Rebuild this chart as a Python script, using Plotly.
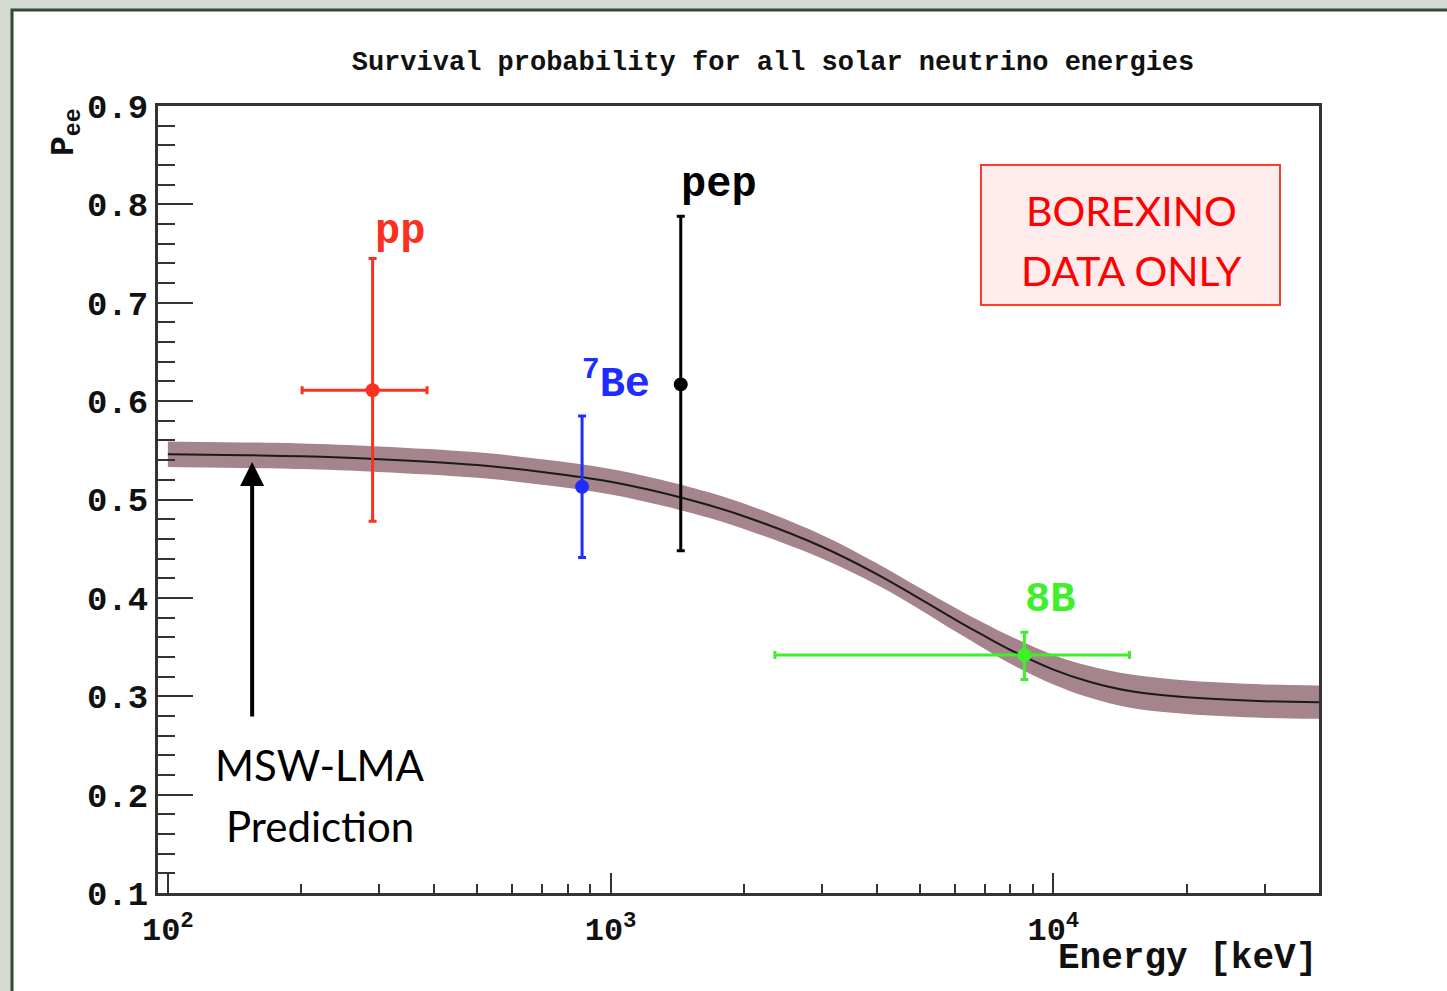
import plotly.graph_objects as go
import math

# ---------------- data ----------------
# MSW-LMA prediction curve (energy in keV, survival probability)
curve_E = [100, 150, 200, 300, 500, 700, 1000, 1500, 2000, 3000, 4000, 5000,
           6000, 7000, 8000, 10000, 12000, 15000, 20000, 30000, 40000]
curve_P = [0.546, 0.545, 0.544, 0.541, 0.535, 0.528, 0.518, 0.500, 0.483, 0.452,
           0.424, 0.399, 0.378, 0.361, 0.347, 0.327, 0.315, 0.305, 0.299, 0.295, 0.294]
curve_hw = [0.013, 0.013, 0.013, 0.013, 0.013, 0.013, 0.013, 0.013, 0.013, 0.012,
            0.011, 0.011, 0.012, 0.013, 0.014, 0.015, 0.016, 0.017, 0.017, 0.017, 0.017]

# Borexino measurements
names = ["pp", "7Be", "pep", "8B"]
E = [290, 862, 1440, 8600]
E_lo = [201, 862, 1440, 2350]
E_hi = [385, 862, 1440, 14860]
P = [0.611, 0.513, 0.617, 0.342]
P_lo = [0.478, 0.441, 0.448, 0.317]
P_hi = [0.745, 0.585, 0.788, 0.365]
colors = ["#f8321f", "#1f2cff", "#000000", "#3ef02a"]
label_text = ["pp", "<sup>7</sup>Be", "pep", "8B"]
label_E = [335, 1026, 1754, 9840]
label_P = [0.772, 0.620, 0.820, 0.398]

x_major = [100, 1000, 10000]
x_major_text = ["10<sup>2</sup>", "10<sup>3</sup>", "10<sup>4</sup>"]
x_minor = [m * d for d in (100, 1000, 10000) for m in range(2, 10) if m * d <= 40000]
y_major = [0.1, 0.2, 0.3, 0.4, 0.5, 0.6, 0.7, 0.8, 0.9]
y_minor = [round(0.1 + 0.02 * i, 2) for i in range(41) if i % 5 != 0]

# ---------------- geometry ----------------
W, H = 1447, 991
ML, MR, MT, MB = 158, 128, 106, 98
PW, PH = W - ML - MR, H - MT - MB


def px(xp):
    return (xp - ML) / PW


def py(yp):
    return 1 - (yp - MT) / PH


mono = "Liberation Mono, Courier New, monospace"
sans = "Lato, Carlito, Open Sans, sans-serif"
axcol = "#333333"
band_col = "#a6848b"

fig = go.Figure()

# band
fig.add_trace(go.Scatter(x=curve_E, y=[p - h for p, h in zip(curve_P, curve_hw)],
                         mode="lines", line=dict(width=0, color=band_col, shape="spline"),
                         showlegend=False, hoverinfo="skip"))
fig.add_trace(go.Scatter(x=curve_E, y=[p + h for p, h in zip(curve_P, curve_hw)],
                         mode="lines", line=dict(width=0, color=band_col, shape="spline"),
                         fill="tonexty", fillcolor=band_col,
                         showlegend=False, hoverinfo="skip"))
fig.add_trace(go.Scatter(x=curve_E, y=curve_P, mode="lines",
                         line=dict(color="#1a1a1a", width=2, shape="spline"),
                         showlegend=False))

# data points
for i in range(len(names)):
    fig.add_trace(go.Scatter(
        x=[E[i]], y=[P[i]], mode="markers",
        marker=dict(color=colors[i], size=14),
        error_y=dict(type="data", symmetric=False,
                     array=[P_hi[i] - P[i]], arrayminus=[P[i] - P_lo[i]],
                     color=colors[i], thickness=3, width=4),
        error_x=dict(type="data", symmetric=False,
                     array=[E_hi[i] - E[i]], arrayminus=[E[i] - E_lo[i]],
                     color=colors[i], thickness=3, width=4),
        showlegend=False, name=names[i]))

annotations = []
for i in range(len(names)):
    annotations.append(dict(x=math.log10(label_E[i]), y=label_P[i], xref="x", yref="y",
                            text=label_text[i], showarrow=False,
                            font=dict(family=mono, size=42, color=colors[i], weight="bold"),
                            xanchor="center", yanchor="middle"))

# arrow
annotations.append(dict(x=math.log10(155), y=0.538, xref="x", yref="y",
                        ax=0, ay=256, axref="pixel", ayref="pixel", text="",
                        showarrow=True, arrowhead=2, arrowsize=1.2, arrowwidth=4,
                        arrowcolor="#000000"))
# MSW-LMA text
annotations.append(dict(x=px(320), y=py(765), xref="paper", yref="paper",
                        text="MSW-LMA", showarrow=False,
                        font=dict(family=sans, size=42, color="#000000"),
                        xanchor="center", yanchor="middle"))
annotations.append(dict(x=px(320), y=py(826), xref="paper", yref="paper",
                        text="Prediction", showarrow=False,
                        font=dict(family=sans, size=42, color="#000000"),
                        xanchor="center", yanchor="middle"))
# Borexino box text
annotations.append(dict(x=px(1131), y=py(210), xref="paper", yref="paper",
                        text="BOREXINO", showarrow=False,
                        font=dict(family=sans, size=41, color="#ff0000"),
                        xanchor="center", yanchor="middle"))
annotations.append(dict(x=px(1131), y=py(270), xref="paper", yref="paper",
                        text="DATA ONLY", showarrow=False,
                        font=dict(family=sans, size=41, color="#ff0000"),
                        xanchor="center", yanchor="middle"))
# axis titles
annotations.append(dict(x=1.0, y=py(958), xref="paper", yref="paper",
                        text="Energy\u00a0[keV]", showarrow=False,
                        font=dict(family=mono, size=36, color="#111111", weight="bold"),
                        xanchor="right", yanchor="middle"))
annotations.append(dict(x=px(66), y=py(132), xref="paper", yref="paper",
                        text="P<sub>ee</sub>", showarrow=False, textangle=-90,
                        font=dict(family=mono, size=33, color="#111111", weight="bold"),
                        xanchor="center", yanchor="middle"))

shapes = [
    # white slide panel with dark green border
    dict(type="rect", xref="paper", yref="paper", x0=px(12), x1=px(1460),
         y0=py(1005), y1=py(10), fillcolor="#ffffff",
         line=dict(color="#2e4b36", width=3), layer="below"),
    # Borexino box
    dict(type="rect", xref="paper", yref="paper", x0=px(981), x1=px(1280),
         y0=py(305), y1=py(165), fillcolor="#fdeceb",
         line=dict(color="#ff3b2a", width=2), layer="below"),
]

fig.update_layout(
    width=W, height=H,
    margin=dict(l=ML, r=MR, t=MT, b=MB, pad=0),
    paper_bgcolor="#d3dbd2",
    plot_bgcolor="rgba(0,0,0,0)",
    showlegend=False,
    title=dict(text="Survival probability for all solar neutrino energies",
               x=773 / W, xanchor="center", y=1 - 61 / H, yanchor="middle",
               xref="container", yref="container",
               font=dict(family=mono, size=27, color="#111111", weight="bold")),
    xaxis=dict(type="log", range=[math.log10(95), math.log10(39800)],
               tickvals=x_major, ticktext=x_major_text,
               ticks="inside", ticklen=20, tickwidth=2, tickcolor=axcol,
               ticklabelstandoff=6,
               minor=dict(tickvals=x_minor, ticks="inside", ticklen=9,
                          tickwidth=2, tickcolor=axcol),
               showgrid=False, zeroline=False,
               showline=True, linecolor=axcol, linewidth=3, mirror=True,
               tickfont=dict(family=mono, size=32, color="#111111", weight="bold")),
    yaxis=dict(range=[0.1, 0.9], tickvals=y_major, tickformat=".1f",
               ticks="inside", ticklen=35, tickwidth=2, tickcolor=axcol,
               minor=dict(tickvals=y_minor, ticks="inside", ticklen=17,
                          tickwidth=2, tickcolor=axcol),
               showgrid=False, zeroline=False,
               showline=True, linecolor=axcol, linewidth=3, mirror=True,
               tickfont=dict(family=mono, size=34, color="#111111", weight="bold")),
    annotations=annotations,
    shapes=shapes,
)

fig.write_html("out.html")
